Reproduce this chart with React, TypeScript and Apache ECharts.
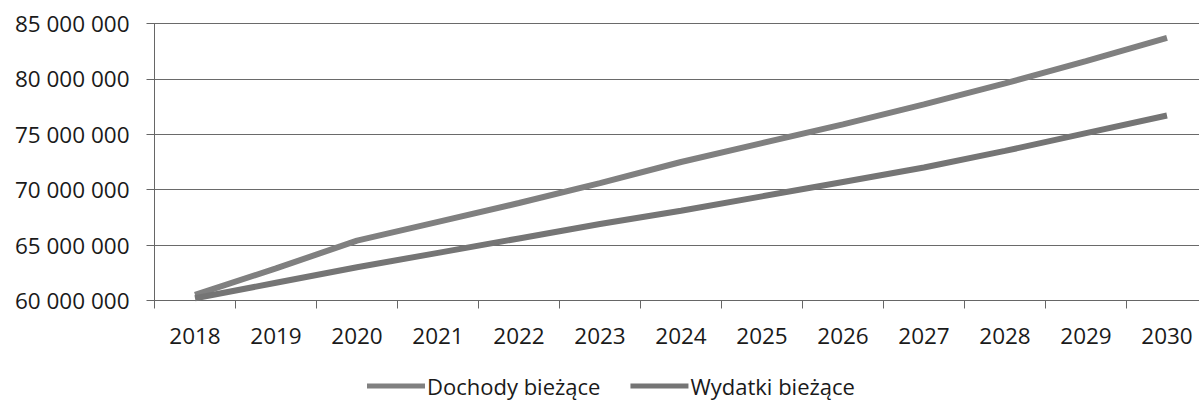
import React, { useEffect, useRef } from "react";
import * as echarts from "echarts";

const years = ["2018", "2019", "2020", "2021", "2022", "2023", "2024", "2025", "2026", "2027", "2028", "2029", "2030"];
const dochody = [60500000, 62900000, 65400000, 67100000, 68800000, 70600000, 72500000, 74200000, 75900000, 77700000, 79600000, 81600000, 83700000];
const wydatki = [60200000, 61600000, 63000000, 64300000, 65600000, 66900000, 68100000, 69400000, 70700000, 72000000, 73500000, 75100000, 76700000];
const seriesNames = ["Dochody bieżące", "Wydatki bieżące"];

const FONT = "'Open Sans', 'Noto Sans', sans-serif";

function fmt(v: number): string {
  return String(Math.round(v)).replace(/\B(?=(\d{3})+(?!\d))/g, " ");
}

export default function App() {
  const ref = useRef<HTMLDivElement>(null);
  useEffect(() => {
    if (!ref.current) return;
    const chart = echarts.init(ref.current, undefined, { renderer: "svg" });
    chart.setOption({
      animation: false,
      backgroundColor: "#ffffff",
      grid: { left: 154.5, top: 23.5, right: -8.5, bottom: 100.5, containLabel: false, outerBoundsMode: "none" },
      legend: {
        data: seriesNames,
        left: 362,
        top: 370,
        icon: "rect",
        itemWidth: 58,
        itemHeight: 5,
        itemGap: 30,
        textStyle: { fontFamily: FONT, fontSize: 22, color: "#1a1a1a", padding: [0, 0, 0, -3] },
      },
      xAxis: {
        type: "category",
        data: years,
        boundaryGap: true,
        axisLine: { show: true, lineStyle: { color: "#666", width: 1 } },
        axisTick: { show: true, length: 8, lineStyle: { color: "#666" } },
        axisLabel: { fontFamily: FONT, fontSize: 22.5, color: "#1a1a1a", margin: 23 },
        splitLine: { show: false },
      },
      yAxis: {
        type: "value",
        min: 60000000,
        max: 85000000,
        interval: 5000000,
        axisLine: { show: true, lineStyle: { color: "#666", width: 1 } },
        axisTick: { show: true, length: 8, lineStyle: { color: "#666" } },
        axisLabel: { fontFamily: FONT, fontSize: 22.5, color: "#1a1a1a", margin: 25, formatter: (v: number) => fmt(v) },
        splitLine: { show: true, lineStyle: { color: "#6a6a6a", width: 1 } },
      },
      series: [
        {
          name: seriesNames[0],
          type: "line",
          data: dochody,
          symbol: "none",
          lineStyle: { color: "#808080", width: 6 },
          itemStyle: { color: "#808080" },
        },
        {
          name: seriesNames[1],
          type: "line",
          data: wydatki,
          symbol: "none",
          lineStyle: { color: "#757575", width: 6 },
          itemStyle: { color: "#757575" },
        },
      ],
    });
    return () => chart.dispose();
  }, []);
  return (
    <div
      ref={ref}
      style={{ position: "fixed", left: 0, top: 0, width: 1199, height: 401, background: "#fff" }}
    />
  );
}
